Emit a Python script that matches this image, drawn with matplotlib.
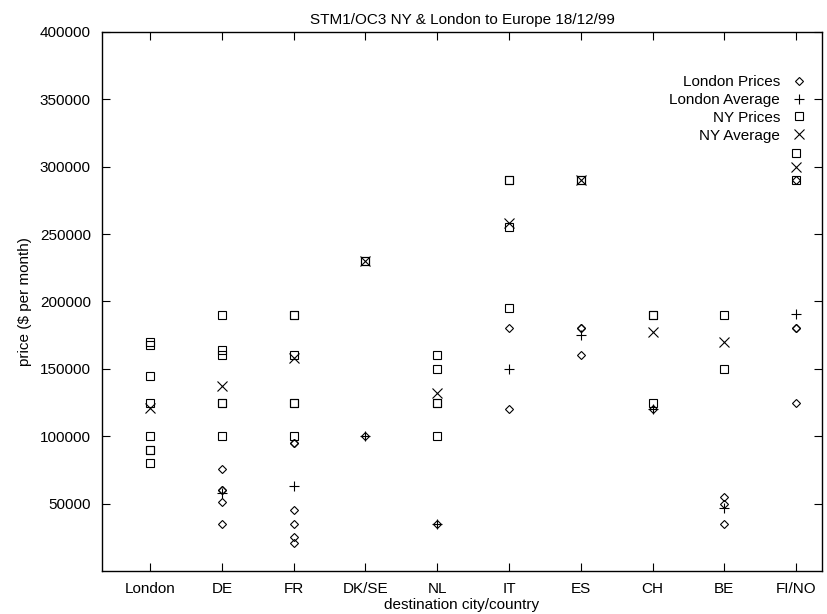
import numpy as np
import matplotlib.pyplot as plt

plt.rcParams['font.family'] = ['Liberation Sans', 'DejaVu Sans']

# =============================
# Data
# =============================

categories = ["London", "DE", "FR", "DK/SE", "NL", "IT", "ES", "CH", "BE", "FI/NO"]

# London prices (diamonds)
london_price_cat = ["DE", "DE", "DE", "DE", "DE",
                    "FR", "FR", "FR", "FR", "FR", "FR",
                    "DK/SE", "NL", "IT", "IT",
                    "ES", "ES", "ES", "CH",
                    "BE", "BE", "BE",
                    "FI/NO", "FI/NO", "FI/NO", "FI/NO"]
london_price_val = [76000, 60000, 60000, 51000, 35000,
                    95000, 95000, 45000, 35000, 25000, 21000,
                    100000, 35000, 180000, 120000,
                    180000, 180000, 160000, 120000,
                    55000, 50000, 35000,
                    290000, 180000, 180000, 125000]

# London average (plus)
london_avg_cat = ["DE", "FR", "DK/SE", "NL", "IT", "ES", "CH", "BE", "FI/NO"]
london_avg_val = [58000, 63000, 100000, 35000, 150000, 175000, 120000, 47000, 191000]

# NY prices (squares)
ny_price_cat = ["London"] * 8 + ["DE"] * 6 + ["FR"] * 6 + ["DK/SE"] * 2 + ["NL"] * 5 \
    + ["IT"] * 4 + ["ES"] * 2 + ["CH"] * 3 + ["BE"] * 2 + ["FI/NO"] * 2
ny_price_val = [170000, 168000, 145000, 125000, 100000, 90000, 90000, 80000,
                190000, 164000, 160000, 125000, 125000, 100000,
                190000, 190000, 160000, 125000, 125000, 100000,
                230000, 230000,
                160000, 150000, 125000, 125000, 100000,
                290000, 290000, 255000, 195000,
                290000, 290000,
                190000, 190000, 125000,
                190000, 150000,
                310000, 290000]

# NY average (x)
ny_avg_cat = categories
ny_avg_val = [121000, 137000, 158000, 230000, 132000, 258000, 290000, 177000, 170000, 300000]

# =============================
# Plot
# =============================

def pos(cats):
    return np.array([categories.index(c) + 1 for c in cats])

fig = plt.figure(figsize=(8.27, 6.14), dpi=100)
ax = fig.add_axes([102 / 827, 1 - 571 / 614, (822 - 102) / 827, (571 - 32) / 614])

ax.plot(pos(london_price_cat), london_price_val, linestyle='none', marker='D',
        ms=4.5, mfc='none', mec='black', mew=0.8, label="London Prices")
ax.plot(pos(london_avg_cat), london_avg_val, linestyle='none', marker='+',
        ms=7, mec='black', mew=0.8, label="London Average")
ax.plot(pos(ny_price_cat), ny_price_val, linestyle='none', marker='s',
        ms=6, mfc='none', mec='black', mew=0.8, label="NY Prices")
ax.plot(pos(ny_avg_cat), ny_avg_val, linestyle='none', marker='x',
        ms=7, mec='black', mew=0.8, label="NY Average")

ax.set_xlim(0.33, 10.36)
ax.set_ylim(0, 400000)
ax.set_xticks(np.arange(1, len(categories) + 1))
ax.set_xticklabels(categories)
ax.set_yticks(np.arange(50000, 400001, 50000))
ax.tick_params(direction='in', top=True, right=True, length=6, width=0.8,
               labelsize=11, pad=8)
for s in ax.spines.values():
    s.set_linewidth(1.0)

ax.set_title("STM1/OC3 NY & London to Europe 18/12/99", fontsize=11, pad=6)
ax.set_xlabel("destination city/country", fontsize=11, labelpad=1)
ax.set_ylabel("price ($ per month)", fontsize=11, labelpad=6)

leg = ax.legend(loc='upper right', bbox_to_anchor=(0.978, 0.92), frameon=False,
                markerfirst=False, fontsize=11, handlelength=1, handletextpad=0.7,
                labelspacing=0.25, borderaxespad=0, borderpad=0)
for t in leg.get_texts():
    t.set_ha('right')
leg._legend_box.align = 'right'

fig.savefig("out.png", dpi=100)
